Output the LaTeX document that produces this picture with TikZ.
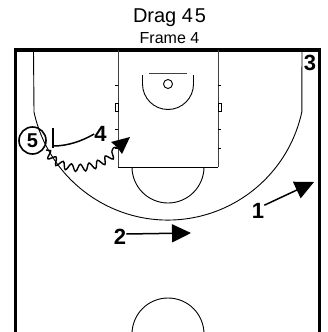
\documentclass[tikz,border=0pt]{standalone}
\usepackage{fontspec}
\setmainfont{Liberation Sans}
\usetikzlibrary{arrows.meta,decorations.pathmorphing,calc}
\begin{document}
\begin{tikzpicture}[x=1pt,y=1pt,
  court/.style={line width=0.9pt,draw=black},
  lane/.style={line width=1pt,draw=black!75},
  player/.style={font=\fontsize{22}{22}\selectfont\bfseries,inner sep=0pt},
  cut/.style={line width=1.5pt,-{Triangle[length=19pt,width=18pt]}},
  title/.style={inner sep=0pt}]
\useasboundingbox (0,0) rectangle (328,-332);
\clip (0,0) rectangle (328,-332);
\fill[white] (0,0) rectangle (328,-332);
% court
\draw[line width=3.4pt] (15.5,-340) -- (15.5,-50) -- (319.5,-50) -- (319.5,-340);
\draw[court] (33.5,-50) -- (34,-112) arc[start angle=192.2,end angle=347.8,radius=137] -- (302,-50);
\draw[lane] (118,-50) -- (118,-167);
\draw[lane] (218,-50) -- (218,-167);
\draw[court] (118,-167) -- (218,-167);
\draw[court] (132,-167) arc[start angle=180,end angle=360,radius=36];
\draw[court] (132,-334) arc[start angle=180,end angle=0,radius=36];
\draw[court] (142.5,-75) -- (142.5,-84) arc[start angle=180,end angle=360,radius=25.5] -- (193.5,-75);
\draw[lane] (149,-73.5) -- (187,-73.5);
\draw[court] (168,-84) circle[radius=4.5];
% lane marks
\foreach \yy in {85,129.5,148}{
  \draw[court] (115,-\yy) -- (118,-\yy);
  \draw[court] (218,-\yy) -- (221,-\yy);
}
\draw[court] (115,-103) rectangle (118,-111);
\draw[court] (218,-103) rectangle (221,-111);
% titles
\node[title,font=\fontsize{20}{20}\selectfont] (ttl) at (169.5,-18) {Drag 4\kern1.8pt5};
\node[title,font=\fontsize{16}{16}\selectfont] (sub) at (169.5,-38) {Frame 4};
% players
\node[player] (p3) at (310,-63) {3};
\node[player,font=\fontsize{20}{20}\selectfont\bfseries,draw,circle,line width=1.6pt,minimum size=27pt] (p5) at (32.5,-140.5) {5};
\node[player] (p4) at (100.5,-134) {4};
\node[player] (p1) at (258,-211) {1};
\node[player] (p2) at (120,-237) {2};
% targets
\coordinate (t1) at (314,-182);
\coordinate (t2) at (191,-233);
\coordinate (s4) at (53,-146);
\coordinate (bara) at (53,-128);
\coordinate (barb) at (53,-148);
\coordinate (d5) at (46,-150);
\coordinate (d5end) at (117,-147);
\coordinate (t5) at (130,-137);
% movements
\draw[cut] (p1.north east) ++(0,-2) -- (t1);
\draw[cut] (p2.east) ++(0,3) -- (t2);
\draw[line width=1.5pt] (bara) -- (barb);
\draw[line width=1.5pt] (s4) .. controls (68,-146) and (82,-141) .. (p4.west);
\draw[line width=1.4pt,decorate,decoration={snake,amplitude=3.6pt,segment length=9.5pt}]
  (d5) .. controls (60,-173) and (98,-170) .. (d5end);
\fill (t5) -- (111,-142) -- (117,-147) -- (122,-154) -- cycle;
\end{tikzpicture}
\end{document}
